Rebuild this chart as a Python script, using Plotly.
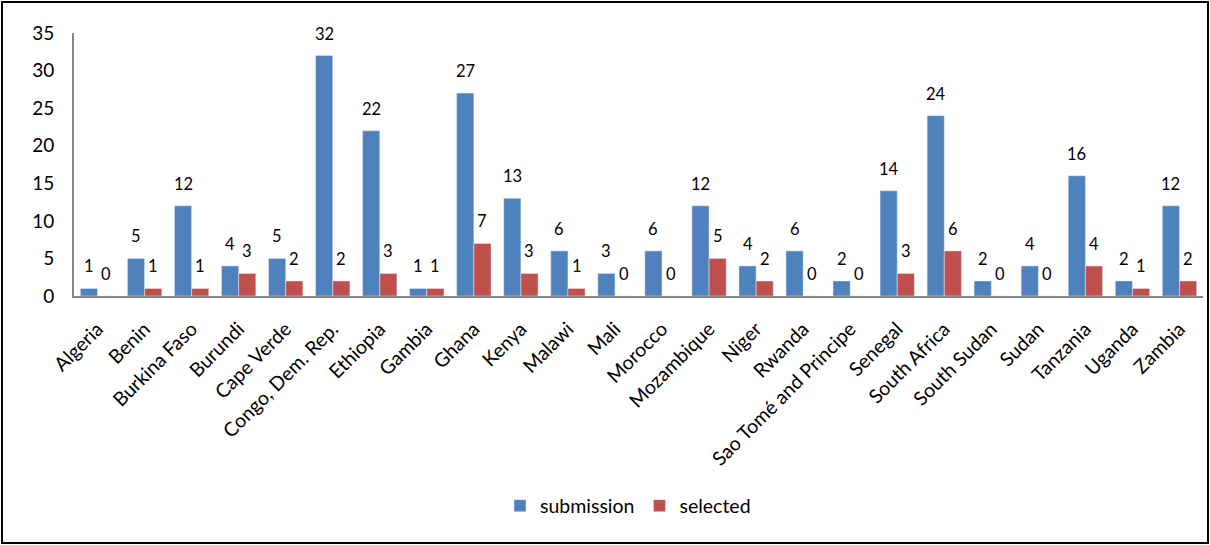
import plotly.graph_objects as go

countries = ["Algeria", "Benin", "Burkina Faso", "Burundi", "Cape Verde", "Congo, Dem. Rep.",
             "Ethiopia", "Gambia", "Ghana", "Kenya", "Malawi", "Mali", "Morocco", "Mozambique",
             "Niger", "Rwanda", "Sao Tomé and Principe", "Senegal", "South Africa", "South Sudan",
             "Sudan", "Tanzania", "Uganda", "Zambia"]
submission = [1, 5, 12, 4, 5, 32, 22, 1, 27, 13, 6, 3, 6, 12, 4, 6, 2, 14, 24, 2, 4, 16, 2, 12]
selected = [0, 1, 1, 3, 2, 2, 3, 1, 7, 3, 1, 0, 0, 5, 2, 0, 0, 3, 6, 0, 0, 4, 1, 2]

FONT = "Lato"
W, H = 1210, 545
L, R, T, B = 74, 7, 33, 249
pw, ph = W - L - R, H - T - B
BARGAP = 0.27
half_bar = pw / len(countries) * (1 - BARGAP) / 4

fig = go.Figure()
fig.add_trace(go.Bar(name="submission", x=countries, y=submission, marker_color="#4F81BD"))
fig.add_trace(go.Bar(name="selected", x=countries, y=selected, marker_color="#C0504D"))

# data labels, placed above each bar
for vals, sign in ((submission, -1), (selected, 1)):
    for c, v in zip(countries, vals):
        fig.add_annotation(x=c, y=v, text=str(v), showarrow=False, xanchor="center",
                           yanchor="middle", xshift=sign * half_bar, yshift=22,
                           font=dict(family=FONT, size=16.5, color="black"))

fig.update_layout(
    width=W, height=H,
    margin=dict(l=L, r=R, t=T, b=B, autoexpand=False),
    paper_bgcolor="white", plot_bgcolor="white",
    barmode="group", bargap=BARGAP, bargroupgap=0,
    font=dict(family=FONT, size=17, color="black"),
    showlegend=True,
    legend=dict(orientation="h", x=(628 - L) / pw, xanchor="center",
                y=(T + ph - 506) / ph, yanchor="middle",
                font=dict(family=FONT, size=19.5), itemwidth=30),
    xaxis=dict(showline=True, linecolor="#868686", linewidth=2, ticks="", automargin=False,
               tickangle=-45, tickfont=dict(family=FONT, size=19.5), showgrid=False,
               ticklabelstandoff=12),
    yaxis=dict(range=[0, 35], dtick=5, showline=True, linecolor="#868686", linewidth=2,
               ticks="", showgrid=False, zeroline=False, automargin=False,
               tickfont=dict(family=FONT, size=19), ticklabelstandoff=14),
)

fig.add_shape(type="rect", xref="paper", yref="paper",
              x0=(2 - L) / pw, x1=(1208 - L) / pw,
              y0=(T + ph - 543) / ph, y1=(T + ph - 2) / ph,
              line=dict(color="black", width=2), fillcolor="rgba(0,0,0,0)", layer="below")

fig.write_html("out.html", config={"displayModeBar": False},
               post_script="document.body.style.margin='0';")
